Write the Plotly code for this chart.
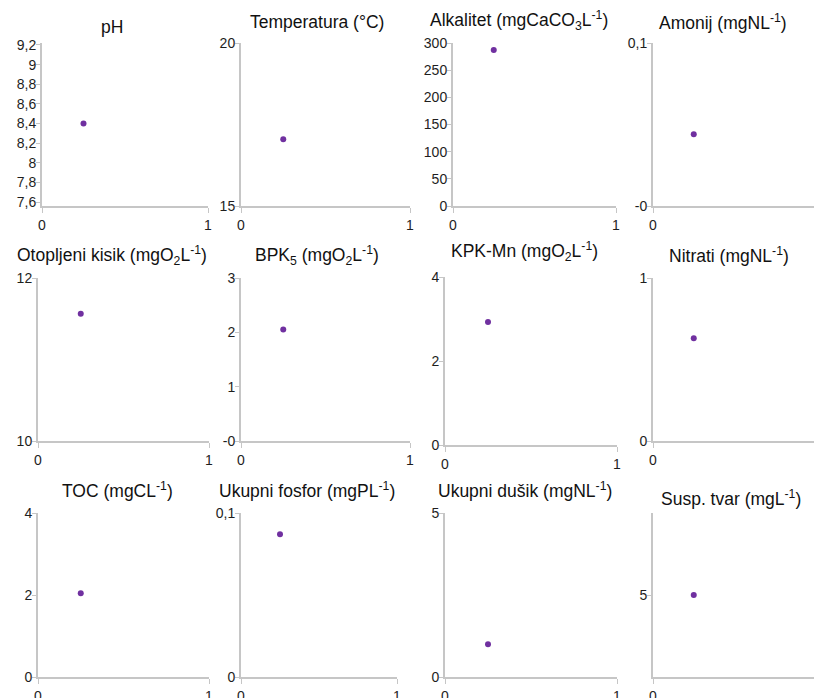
import plotly.graph_objects as go

# ---- data ----
titles = [
    "pH", "Temperatura (°C)", "Alkalitet (mgCaCO<sub>3</sub>L<sup>-1</sup>)", "Amonij (mgNL<sup>-1</sup>)",
    "Otopljeni kisik (mgO<sub>2</sub>L<sup>-1</sup>)", "BPK<sub>5</sub> (mgO<sub>2</sub>L<sup>-1</sup>)",
    "KPK-Mn (mgO<sub>2</sub>L<sup>-1</sup>)", "Nitrati (mgNL<sup>-1</sup>)",
    "TOC (mgCL<sup>-1</sup>)", "Ukupni fosfor (mgPL<sup>-1</sup>)", "Ukupni dušik (mgNL<sup>-1</sup>)",
    "Susp. tvar (mgL<sup>-1</sup>)",
]
x_values = [0.25] * 12
y_values = [8.4, 17.05, 287, 0.044, 11.56, 2.05, 2.93, 0.63, 2.04, 0.087, 1.0, 5]
y_ranges = [[7.56, 9.22], [15, 20], [0, 300], [0, 0.1], [10, 12], [0, 3], [0, 4], [0, 1],
            [0, 4], [0, 0.1], [0, 5], [0, 10]]
y_tickvals = [
    [7.6, 7.8, 8.0, 8.2, 8.4, 8.6, 8.8, 9.0, 9.2], [15, 20], [0, 50, 100, 150, 200, 250, 300], [0, 0.1],
    [10, 12], [0, 1, 2, 3], [0, 2, 4], [0, 1],
    [0, 2, 4], [0, 0.1], [0, 5], [5],
]
y_ticktext = [
    ["7,6", "7,8", "8", "8,2", "8,4", "8,6", "8,8", "9", "9,2"], ["15", "20"],
    ["0", "50", "100", "150", "200", "250", "300"], ["-0", "0,1"],
    ["10", "12"], ["-0", "1", "2", "3"], ["0", "2", "4"], ["0", "1"],
    ["0", "2", "4"], ["0", "0,1"], ["0", "5"], ["5"],
]
x_tickvals = [0, 1]
x_ticktext = ["0", "1"]

# ---- layout geometry (pixels) ----
W, H = 814, 698
# (left, right, top, bottom) of each plot area
boxes = [
    (42, 208, 43, 206), (241, 410, 43, 206), (453, 616, 43, 206), (653, 816, 43, 206),
    (38, 209, 278, 441), (241, 410, 278, 441), (445, 617, 277, 445), (653, 816, 278, 441),
    (38, 209, 513, 677), (241, 397, 513, 677), (445, 617, 513, 677), (653, 816, 513, 677),
]
title_pos = [
    (112, 27), (317, 22), (519, 20), (723, 22),
    (112, 255), (317, 255), (524, 252), (729, 255),
    (117, 490), (307, 490), (525, 490), (731, 498),
]

FONT = "Liberation Sans, Arial, sans-serif"
AXIS_COLOR = "#c6c6c6"
TEXT_COLOR = "#1e1e1e"
DOT_COLOR = "#7030a0"
TICK_SIZE = 14
TITLE_SIZE = 17.5

fig = go.Figure()
layout = dict(
    width=W, height=H, margin=dict(l=0, r=0, t=0, b=0, pad=0, autoexpand=False),
    paper_bgcolor="white", plot_bgcolor="white", showlegend=False,
    font=dict(family=FONT, size=TICK_SIZE, color=TEXT_COLOR),
)
annotations = []
for i in range(12):
    n = i + 1
    xa = "x" if n == 1 else f"x{n}"
    ya = "y" if n == 1 else f"y{n}"
    fig.add_trace(go.Scatter(
        x=[x_values[i]], y=[y_values[i]], mode="markers",
        marker=dict(color=DOT_COLOR, size=6),
        xaxis=xa, yaxis=ya, hoverinfo="skip", cliponaxis=False,
    ))
    l, r, t, b = boxes[i]
    r_clip = min(r, W)
    xmax = (r_clip - l) / (r - l)
    common = dict(
        showgrid=False, zeroline=False, showline=True, linecolor=AXIS_COLOR, linewidth=2,
        ticks="outside", tickcolor=AXIS_COLOR, tickwidth=1, automargin=False,
        tickfont=dict(family=FONT, size=TICK_SIZE, color=TEXT_COLOR), fixedrange=True,
    )
    layout[f"xaxis{'' if n == 1 else n}"] = dict(
        domain=[l / W, r_clip / W], range=[0, xmax], anchor=ya,
        tickvals=x_tickvals, ticktext=x_ticktext, ticklen=5, **common,
    )
    layout[f"yaxis{'' if n == 1 else n}"] = dict(
        domain=[1 - b / H, 1 - t / H], range=y_ranges[i], anchor=xa,
        tickvals=y_tickvals[i], ticktext=y_ticktext[i], ticklen=4,
        ticklabelstandoff=-3, **common,
    )
    cx, cy = title_pos[i]
    annotations.append(dict(
        text=titles[i], x=cx / W, y=1 - cy / H, xref="paper", yref="paper",
        xanchor="center", yanchor="middle", showarrow=False,
        font=dict(family=FONT, size=TITLE_SIZE, color="#111111"),
    ))
layout["annotations"] = annotations
fig.update_layout(**layout)
fig.write_html(
    "out.html",
    config={"displayModeBar": False},
    post_script="document.body.style.margin='0';document.body.style.overflow='hidden';"
                "document.documentElement.style.overflow='hidden';",
)
